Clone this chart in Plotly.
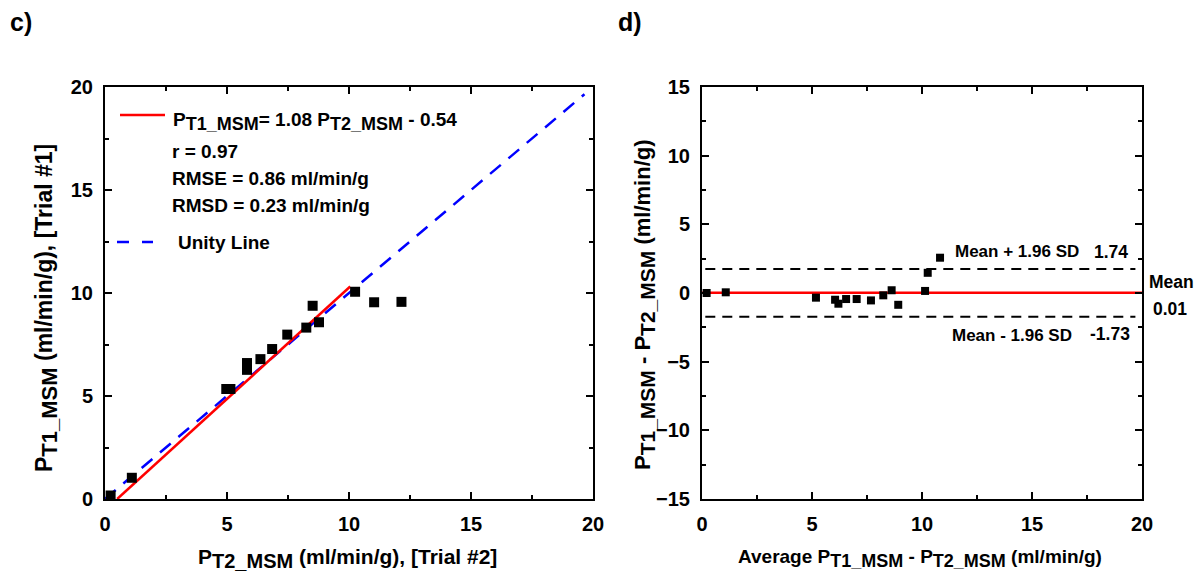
import plotly.graph_objects as go

# ---------------- data ----------------
trial2_x = [0.23, 1.10, 4.97, 5.14, 5.82, 5.82, 6.37, 6.85, 7.47, 8.25, 8.51, 8.77, 10.25, 11.03, 12.15]
trial1_y = [0.17, 1.03, 5.34, 5.34, 6.60, 6.27, 6.79, 7.28, 7.98, 8.32, 9.38, 8.58, 10.06, 9.55, 9.57]
fit_slope = 1.08
fit_intercept = -0.54
fit_x = [0.5, 10.05]
unity_x = [0.0, 19.65]

ba_avg = [0.21, 1.08, 5.18, 6.05, 6.20, 6.55, 7.03, 7.68, 8.24, 8.62, 8.92, 10.14, 10.26, 10.82]
ba_diff = [0.0, 0.05, -0.34, -0.49, -0.78, -0.44, -0.44, -0.54, -0.17, 0.20, -0.86, 0.15, 1.47, 2.57]
ba_mean = 0.01
ba_upper = 1.74
ba_lower = -1.73
ba_x_span = [0.0, 20.0]
ba_dash_span = [0.15, 19.7]

FONT = "Liberation Sans, Arial, sans-serif"
W, H = 1197, 579

def px(x):
    return x / W

def py(y):
    return 1 - y / H

def sub(s, size):
    return "<sub><span style='font-size:%spx'>%s</span></sub>" % (size, s)

fig = go.Figure()

# ---- panel c ----
fig.add_trace(go.Scatter(x=unity_x, y=unity_x, mode="lines",
                         line=dict(color="#0000ff", width=2.5, dash="14px,10px"),
                         xaxis="x", yaxis="y", showlegend=False))
fig.add_trace(go.Scatter(x=fit_x, y=[fit_slope * v + fit_intercept for v in fit_x], mode="lines",
                         line=dict(color="#ff0000", width=2.5),
                         xaxis="x", yaxis="y", showlegend=False))
fig.add_trace(go.Scatter(x=trial2_x, y=trial1_y, mode="markers",
                         marker=dict(symbol="square", size=10, color="black"),
                         cliponaxis=False, xaxis="x", yaxis="y", showlegend=False))

# ---- panel d ----
for yv in [ba_upper, ba_lower]:
    fig.add_trace(go.Scatter(x=ba_dash_span, y=[yv, yv], mode="lines",
                             line=dict(color="black", width=2, dash="10px,7px"),
                             xaxis="x2", yaxis="y2", showlegend=False))
fig.add_trace(go.Scatter(x=ba_x_span, y=[ba_mean, ba_mean], mode="lines",
                         line=dict(color="#ff0000", width=2.5),
                         xaxis="x2", yaxis="y2", showlegend=False))
fig.add_trace(go.Scatter(x=ba_avg, y=ba_diff, mode="markers",
                         marker=dict(symbol="square", size=8, color="black"),
                         cliponaxis=False, xaxis="x2", yaxis="y2", showlegend=False))

def axis_common(rng, dtick, minor_dtick, domain, anchor):
    return dict(range=rng, dtick=dtick, tick0=0, domain=domain, anchor=anchor,
                automargin=False,
                showline=True, linewidth=2, linecolor="black", mirror="ticks",
                ticks="inside", ticklen=7, tickwidth=2, tickcolor="black",
                minor=dict(ticks="inside", dtick=minor_dtick, ticklen=4, tickwidth=2, tickcolor="black"),
                showgrid=False, zeroline=False,
                tickfont=dict(family=FONT, size=20, color="black", weight="bold"),
                ticklabelstandoff=6)

ydom = [py(499), py(87)]
fig.update_layout(
    width=W, height=H,
    margin=dict(l=0, r=0, t=0, b=0, autoexpand=False),
    paper_bgcolor="white", plot_bgcolor="white",
    xaxis=axis_common([0, 20], 5, 2.5, [px(105), px(593)], "y"),
    yaxis=axis_common([0, 20], 5, 2.5, ydom, "x"),
    xaxis2=axis_common([0, 20], 5, 2.5, [px(702), px(1142)], "y2"),
    yaxis2=axis_common([-15, 15], 5, 2.5, ydom, "x2"),
)

ann = []
def text(x, y, s, size=17, xanchor="left", angle=0):
    ann.append(dict(x=px(x), y=py(y), xref="paper", yref="paper", text=s, showarrow=False,
                    xanchor=xanchor, yanchor="middle", textangle=angle,
                    font=dict(family=FONT, size=size, color="black", weight="bold")))

text(21, 22, "c)", size=25, xanchor="center")
text(630, 22, "d)", size=25, xanchor="center")

# legend-like block in panel c
text(171, 121, "P" + sub("T1_MSM", 18) + "= 1.08 P" + sub("T2_MSM", 18) + " - 0.54", size=19)
text(170, 152, "r = 0.97", size=19)
text(170, 178, "RMSE = 0.86 ml/min/g", size=19)
text(170, 205, "RMSD = 0.23 ml/min/g", size=19)
text(176, 242, "Unity Line", size=19)

# axis titles
text(347, 558, "P" + sub("T2_MSM", 20) + " (ml/min/g), [Trial #2]", size=21, xanchor="center")
text(46, 308, "P" + sub("T1_MSM", 22) + " (ml/min/g), [Trial #1]", size=23, xanchor="center", angle=-90)
text(920, 558, "Average P" + sub("T1_MSM", 18) + " - P" + sub("T2_MSM", 18) + " (ml/min/g)", size=19, xanchor="center")
text(644, 305, "P" + sub("T1_MSM", 21) + " - P" + sub("T2_MSM", 21) + " (ml/min/g)", size=22, xanchor="center", angle=-90)

# BA labels
text(953, 251, "Mean + 1.96 SD", size=17)
text(1111, 252, "1.74", size=17.5, xanchor="center")
text(950, 335, "Mean - 1.96 SD", size=17)
text(1110, 334, "-1.73", size=17.5, xanchor="center")
text(1171, 282, "Mean", size=17.5, xanchor="center")
text(1170, 309, "0.01", size=17.5, xanchor="center")

fig.update_layout(annotations=ann)

# legend symbols (paper-space decorations)
fig.add_shape(type="line", xref="paper", yref="paper", x0=px(120), x1=px(165), y0=py(115), y1=py(115),
              line=dict(color="#ff0000", width=2.5))
fig.add_shape(type="line", xref="paper", yref="paper", x0=px(117), x1=px(153), y0=py(242), y1=py(242),
              line=dict(color="#0000ff", width=2.5, dash="12px,13px"))

fig.write_html("out.html",
               config={"displayModeBar": False},
               post_script="document.body.style.margin='0px';document.body.style.overflow='hidden';")
